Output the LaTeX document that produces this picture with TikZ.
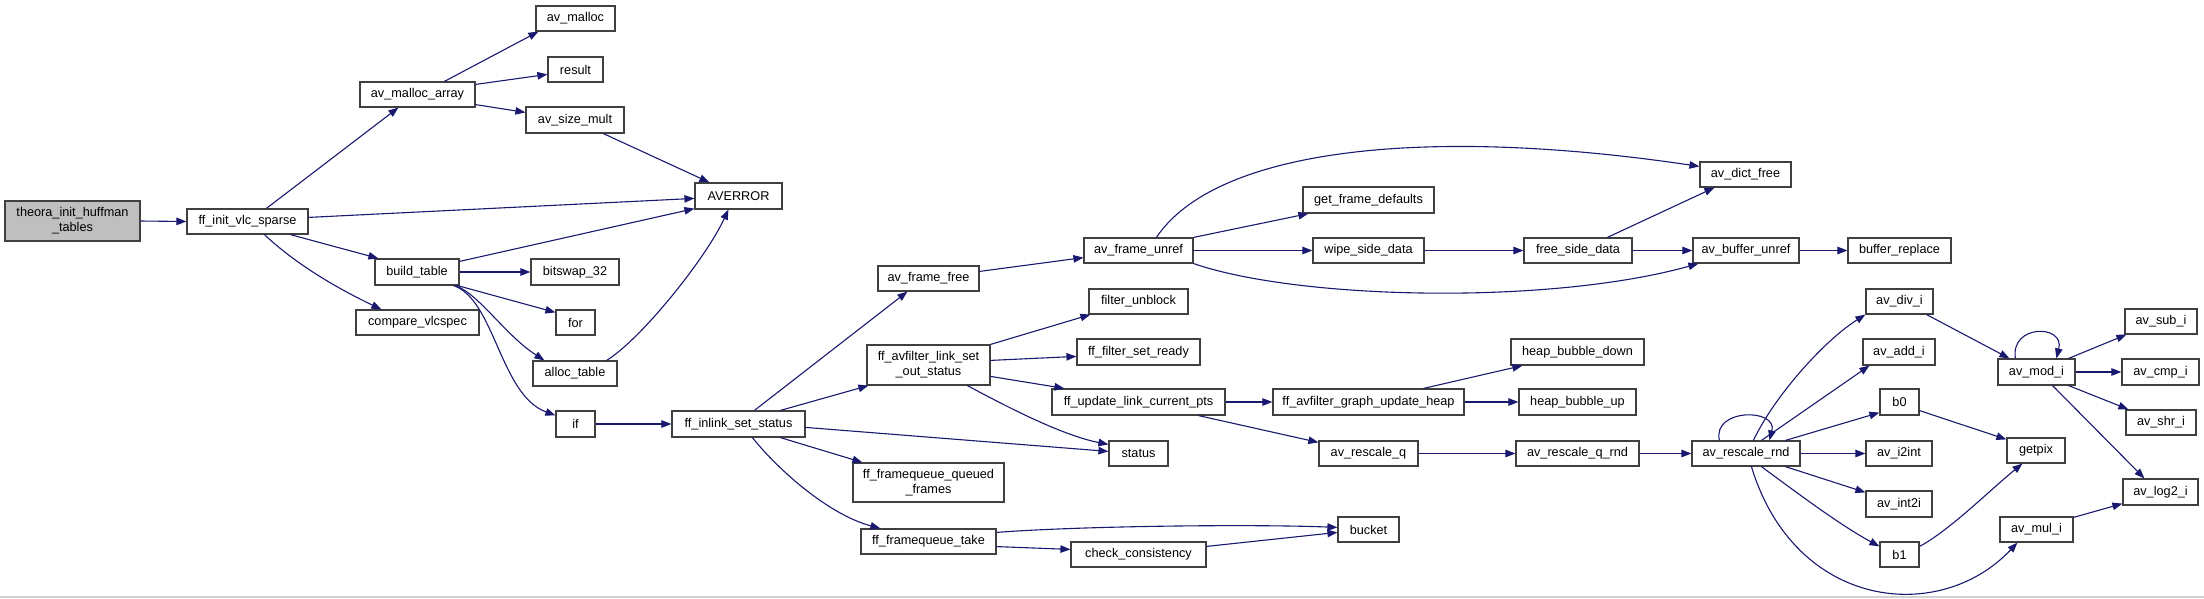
\documentclass[tikz,border=0pt]{standalone}
\usepackage{fontspec}
\setmainfont{Liberation Sans}
\usetikzlibrary{arrows.meta}
\definecolor{edgec}{HTML}{191970}
\definecolor{boxc}{HTML}{404040}
\definecolor{grayfill}{HTML}{BFBFBF}
\newcommand\nodefont{\fontsize{12.7pt}{15.3pt}\selectfont}
\newcommand\gn[7][]{\node[box,#1,minimum width={(#5-#3)*1pt},minimum height={(#6-#4)*1pt}] (#2) at ({(#3+#5)/2},{(#4+#6)/2}) {#7};}
\tikzset{
 box/.style={draw=boxc, fill=white, line width=1.2pt, inner sep=0pt, align=center, font=\nodefont},
 ed/.style={draw=edgec, line width=1.1pt, -{Triangle[length=10pt,width=7.5pt]}},
}
\begin{document}
\begin{tikzpicture}[x=1pt,y=-1pt]
\fill[white] (0,0) rectangle (2204,598);
\useasboundingbox (0,0) rectangle (2204,598);
\draw[color=black!18, line width=1.5pt] (0,597) -- (2204,597);

\gn[fill=grayfill]{th}{5}{201}{140}{241}{theora\_init\_huffman\\\_tables}
\gn{vlc}{187}{209}{308}{234}{ff\_init\_vlc\_sparse}
\gn{mal}{360}{82}{475}{107}{av\_malloc\_array}
\gn{bt}{375}{259}{459}{285}{build\_table}
\gn{cmp}{356}{310}{479}{335}{compare\_vlcspec}
\gn{avm}{536}{6}{615}{31}{av\_malloc}
\gn{res}{548}{57}{603}{82}{result}
\gn{szm}{526}{107}{624}{133}{av\_size\_mult}
\gn{err}{695}{183}{782}{209}{AVERROR}
\gn{bsw}{531}{259}{619}{285}{bitswap\_32}
\gn{ffr}{878}{266}{979}{291}{av\_frame\_free}
\gn{for}{556}{310}{595}{335}{for}
\gn{alt}{533}{361}{617}{386}{alloc\_table}
\gn{if}{556}{411}{595}{437}{if}
\gn{ils}{672}{411}{805}{437}{ff\_inlink\_set\_status}
\gn{los}{867}{345}{990}{385}{ff\_avfilter\_link\_set\\\_out\_status}
\gn{fqq}{853}{463}{1004}{502}{ff\_framequeue\_queued\\\_frames}
\gn{fqt}{861}{529}{996}{554}{ff\_framequeue\_take}
\gn{fun}{1084}{238}{1193}{263}{av\_frame\_unref}
\gn{gfd}{1303}{187}{1434}{213}{get\_frame\_defaults}
\gn{wsd}{1313}{238}{1424}{263}{wipe\_side\_data}
\gn{fsd}{1524}{238}{1632}{263}{free\_side\_data}
\gn{fub}{1089}{289}{1188}{314}{filter\_unblock}
\gn{fsr}{1077}{339}{1200}{365}{ff\_filter\_set\_ready}
\gn{ulc}{1052}{389}{1225}{415}{ff\_update\_link\_current\_pts}
\gn{sta}{1109}{441}{1168}{466}{status}
\gn{chk}{1071}{542}{1206}{567}{check\_consistency}
\gn{bkt}{1338}{517}{1399}{542}{bucket}
\gn{guh}{1273}{389}{1464}{415}{ff\_avfilter\_graph\_update\_heap}
\gn{rq}{1319}{441}{1418}{466}{av\_rescale\_q}
\gn{hbd}{1511}{339}{1644}{365}{heap\_bubble\_down}
\gn{hbu}{1519}{389}{1636}{415}{heap\_bubble\_up}
\gn{rqr}{1516}{441}{1639}{466}{av\_rescale\_q\_rnd}
\gn{dic}{1700}{162}{1791}{187}{av\_dict\_free}
\gn{bun}{1693}{238}{1799}{263}{av\_buffer\_unref}
\gn{brp}{1848}{238}{1951}{263}{buffer\_replace}
\gn{div}{1866}{289}{1933}{314}{av\_div\_i}
\gn{add}{1863}{339}{1935}{365}{av\_add\_i}
\gn{b0}{1880}{389}{1919}{415}{b0}
\gn{i2i}{1866}{441}{1932}{466}{av\_i2int}
\gn{int2}{1866}{491}{1932}{517}{av\_int2i}
\gn{b1}{1880}{542}{1919}{567}{b1}
\gn{rr}{1692}{441}{1800}{466}{av\_rescale\_rnd}
\gn{mod}{1998}{359}{2075}{385}{av\_mod\_i}
\gn{gp}{2007}{438}{2065}{463}{getpix}
\gn{mul}{2000}{517}{2073}{542}{av\_mul\_i}
\gn{sub}{2125}{309}{2197}{334}{av\_sub\_i}
\gn{cmpi}{2122}{359}{2199}{385}{av\_cmp\_i}
\gn{shr}{2126}{410}{2196}{435}{av\_shr\_i}
\gn{log}{2123}{479}{2198}{505}{av\_log2\_i}

\draw[ed] (th.east) -- (vlc.west);
\draw[ed] ([xshift=80pt]vlc.north west) -- ([xshift=39pt]mal.south west);
\draw[ed] ([yshift=-9pt]vlc.north east) -- ([yshift=-16pt]err.north west);
\draw[ed] ([xshift=104pt]vlc.south west) -- ([xshift=4pt]bt.north west);
\draw[ed] ([xshift=78pt]vlc.south west) .. controls (300,268) and (345,292) .. ([xshift=26pt]cmp.north west);
\draw[ed] ([xshift=85pt]mal.north west) -- ([xshift=3pt]avm.south west);
\draw[ed] ([yshift=-3pt]mal.north east) -- ([yshift=-18pt]res.north west);
\draw[ed] ([yshift=3pt]mal.south east) -- ([yshift=-6pt]szm.north west);
\draw[ed] ([xshift=78pt]szm.south west) -- ([xshift=15pt]err.north west);
\draw[ed] ([yshift=-3pt]bt.north east) -- ([yshift=1pt]err.south west);
\draw[ed] (bt.east) -- (bsw.west);
\draw[ed] ([xshift=-2pt]bt.south east) -- ([yshift=-3pt]for.north west);
\draw[ed] ([xshift=-4pt]bt.south east) .. controls (480,295) and (505,335) .. ([xshift=12pt]alt.north west);
\draw[ed] ([xshift=-6pt]bt.south east) .. controls (495,300) and (500,395) .. ([yshift=-5pt]if.north west);
\draw[ed] ([xshift=-11pt]alt.north east) .. controls (640,340) and (705,260) .. ([xshift=34pt]err.south west);
\draw[ed] (if.east) -- (ils.west);
\draw[ed] ([xshift=83pt]ils.north west) -- ([xshift=30pt]ffr.south west);
\draw[ed] ([xshift=109pt]ils.north west) -- ([xshift=2pt]los.south west);
\draw[ed] ([yshift=-17pt]ils.north east) -- ([yshift=-11pt]sta.north west);
\draw[ed] ([xshift=109pt]ils.south west) -- ([xshift=10pt]fqq.north west);
\draw[ed] ([xshift=81pt]ils.south west) .. controls (780,472) and (830,515) .. ([xshift=20pt]fqt.north west);
\draw[ed] ([yshift=-6pt]ffr.north east) -- ([yshift=6pt]fun.south west);
\draw[ed] (los.north east) -- ([xshift=2pt]fub.south west);
\draw[ed] ([yshift=-16pt]los.north east) -- ([yshift=-18pt]fsr.north west);
\draw[ed] ([yshift=-32pt]los.north east) -- ([xshift=13pt]ulc.north west);
\draw[ed] ([xshift=101pt]los.south west) .. controls (1000,403) and (1060,435) .. ([yshift=-4pt]sta.north west);
\draw[ed] (ulc.east) -- (guh.west);
\draw[ed] ([xshift=-27pt]ulc.south east) -- ([yshift=-2pt]rq.north west);
\draw[ed] ([xshift=-41pt]guh.north east) -- ([xshift=12pt]hbd.south west);
\draw[ed] (guh.east) -- (hbu.west);
\draw[ed] (rq.east) -- (rqr.west);
\draw[ed] (rqr.east) -- (rr.west);
\draw[ed] ([xshift=73pt]fun.north west) .. controls (1215,150) and (1420,125) .. ([yshift=-5pt]dic.north west);
\draw[ed] (fun.north east) -- ([xshift=6pt]gfd.south west);
\draw[ed] (fun.east) -- (wsd.west);
\draw[ed] (fun.south east) .. controls (1300,300) and (1550,305) .. ([xshift=6pt]bun.south west);
\draw[ed] (wsd.east) -- (fsd.west);
\draw[ed] ([xshift=84pt]fsd.north west) -- ([xshift=15pt]dic.south west);
\draw[ed] (fsd.east) -- (bun.west);
\draw[ed] (bun.east) -- (brp.west);
\draw[ed] ([yshift=-4pt]fqt.north east) .. controls (1080,526) and (1250,524) .. ([yshift=-11pt]bkt.north west);
\draw[ed] ([yshift=8pt]fqt.south east) -- ([yshift=-8pt]chk.north west);
\draw[ed] ([yshift=-5pt]chk.north east) -- ([yshift=-16pt]bkt.north west);
\draw[ed] ([xshift=28pt]rr.north west) .. controls (1712,408) and (1778,408) .. ([xshift=78pt]rr.north west);
\draw[ed] ([xshift=62pt]rr.north west) .. controls (1775,395) and (1825,340) .. (div.south west);
\draw[ed] ([xshift=70pt]rr.north west) -- ([xshift=7pt]add.south west);
\draw[ed] ([xshift=94pt]rr.north west) -- ([yshift=3pt]b0.south west);
\draw[ed] (rr.east) -- (i2i.west);
\draw[ed] ([xshift=94pt]rr.south west) -- ([yshift=-2pt]int2.north west);
\draw[ed] ([xshift=70pt]rr.south west) .. controls (1800,495) and (1840,525) .. ([yshift=-5pt]b1.north west);
\draw[ed] ([xshift=60pt]rr.south west) .. controls (1795,610) and (1940,625) .. ([xshift=18pt]mul.south west);
\draw[ed] ([xshift=-7pt]div.south east) -- ([xshift=12pt]mod.north west);
\draw[ed] ([xshift=18pt]mod.north west) .. controls (2010,324) and (2065,324) .. ([xshift=59pt]mod.north west);
\draw[ed] ([xshift=-7pt]mod.north east) -- ([xshift=2pt]sub.south west);
\draw[ed] (mod.east) -- (cmpi.west);
\draw[ed] ([xshift=-7pt]mod.south east) -- ([xshift=3pt]shr.north west);
\draw[ed] ([xshift=-23pt]mod.south east) -- ([xshift=22pt]log.north west);
\draw[ed] ([yshift=5pt]b0.south east) -- ([yshift=-2pt]gp.north west);
\draw[ed] ([yshift=-5pt]b1.north east) .. controls (1950,530) and (1990,490) .. ([xshift=16pt]gp.south west);
\draw[ed] ([yshift=-1pt]mul.north east) -- ([yshift=2pt]log.south west);
\end{tikzpicture}
\end{document}
